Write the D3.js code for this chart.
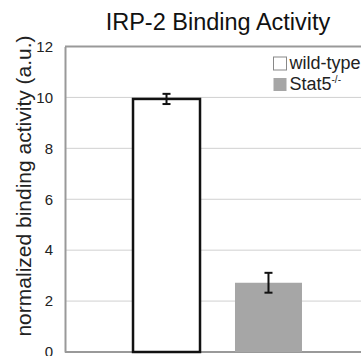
<!DOCTYPE html>
<html lang="en">
  <head>
    <meta charset="UTF-8" />
    <title>IRP-2 Binding Activity</title>
    <script src="https://d3js.org/d3.v7.min.js"></script>
    <style>
      body {
        margin: 0;
        font-family: "Liberation Sans", Arial, sans-serif;
        background: #fff;
      }
      .grid line {
        stroke: #d0d0d0;
        stroke-width: 1px;
      }
      .axis path,
      .axis line {
        stroke: #999;
      }
    </style>
  </head>
  <body>
    <script>
      // chart values
      var groups = ["wild-type", "Stat5"];
      var values = [9.94, 2.72];
      var errors = [0.2, 0.39];
      var yTicks = [0, 2, 4, 6, 8, 10, 12];
      var colors = ["#ffffff", "#a6a6a6"];

      var width = 361,
        height = 356;
      var plotLeft = 65,
        plotTop = 46.5,
        plotBottom = 352,
        plotRight = 370;

      var svg = d3
        .select("body")
        .append("svg")
        .attr("width", width)
        .attr("height", height);

      var x = d3
        .scaleBand()
        .domain(groups)
        .range([plotLeft, plotRight])
        .paddingInner(0.343)
        .paddingOuter(0.667);

      var y = d3.scaleLinear().domain([0, 12]).range([plotBottom, plotTop]);

      // gridlines
      svg
        .append("g")
        .attr("class", "grid")
        .selectAll("line")
        .data(yTicks.filter(function (d) { return d > 0; }))
        .enter()
        .append("line")
        .attr("x1", plotLeft)
        .attr("x2", width)
        .attr("y1", function (d) { return y(d); })
        .attr("y2", function (d) { return y(d); })
        .style("stroke", function (d) { return d == 12 ? "#999" : null; })
        .style("stroke-width", function (d) { return d == 12 ? 2 : null; });

      // x baseline
      svg
        .append("line")
        .attr("x1", plotLeft)
        .attr("x2", width)
        .attr("y1", y(0))
        .attr("y2", y(0))
        .style("stroke", "#999")
        .style("stroke-width", 2);

      // y axis
      var yAxis = svg
        .append("g")
        .attr("class", "axis")
        .attr("transform", "translate(" + plotLeft + ",0)")
        .call(d3.axisLeft(y).tickValues(yTicks).tickSize(0).tickPadding(12));
      yAxis.select(".domain").style("stroke-width", 2);
      yAxis
        .selectAll("text")
        .style("font-family", "Liberation Sans, Arial, sans-serif")
        .style("font-size", "15px")
        .style("fill", "#222");

      // bars
      svg
        .selectAll(".bar")
        .data(groups)
        .enter()
        .append("rect")
        .attr("class", "bar")
        .attr("x", function (d) { return x(d); })
        .attr("width", x.bandwidth())
        .attr("y", function (d, i) { return y(values[i]); })
        .attr("height", function (d, i) { return y(0) - y(values[i]); })
        .style("fill", function (d, i) { return colors[i]; })
        .style("stroke", function (d, i) { return i == 0 ? "#111" : "none"; })
        .style("stroke-width", 2.5);

      // error bars
      var eb = svg
        .selectAll(".err")
        .data(groups)
        .enter()
        .append("g")
        .attr("class", "err")
        .style("stroke", "#111")
        .style("stroke-width", 2);
      eb.append("line")
        .attr("x1", function (d) { return x(d) + x.bandwidth() / 2; })
        .attr("x2", function (d) { return x(d) + x.bandwidth() / 2; })
        .attr("y1", function (d, i) { return y(values[i] + errors[i]); })
        .attr("y2", function (d, i) { return y(values[i] - errors[i]); });
      [1, -1].forEach(function (s) {
        eb.append("line")
          .attr("x1", function (d) { return x(d) + x.bandwidth() / 2 - 4; })
          .attr("x2", function (d) { return x(d) + x.bandwidth() / 2 + 4; })
          .attr("y1", function (d, i) { return y(values[i] + s * errors[i]); })
          .attr("y2", function (d, i) { return y(values[i] + s * errors[i]); });
      });

      // title
      svg
        .append("text")
        .attr("x", 218)
        .attr("y", 30)
        .attr("text-anchor", "middle")
        .style("font-size", "23.5px")
        .style("fill", "#111")
        .text("IRP-2 Binding Activity");

      // y axis title
      svg
        .append("text")
        .attr("transform", "translate(31,186) rotate(-90)")
        .attr("text-anchor", "middle")
        .style("font-size", "21px")
        .style("fill", "#222")
        .text("normalized binding activity (a.u.)");

      // legend
      var legend = svg
        .selectAll(".legend")
        .data(groups)
        .enter()
        .append("g")
        .attr("class", "legend")
        .attr("transform", function (d, i) {
          return "translate(273.5," + (57 + i * 21) + ")";
        });
      legend
        .append("rect")
        .attr("width", 13)
        .attr("height", 13)
        .style("fill", function (d, i) { return colors[i]; })
        .style("stroke", function (d, i) { return i == 0 ? "#888" : "none"; })
        .style("stroke-width", 1);
      var lt = legend
        .append("text")
        .attr("x", 16)
        .attr("y", 12)
        .style("font-size", "18px")
        .style("fill", "#222");
      lt.append("tspan").text(function (d) { return d; });
      lt.filter(function (d, i) { return i == 1; })
        .append("tspan")
        .attr("dy", -7)
        .style("font-size", "10px")
        .text("-/-");
    </script>
  </body>
</html>
